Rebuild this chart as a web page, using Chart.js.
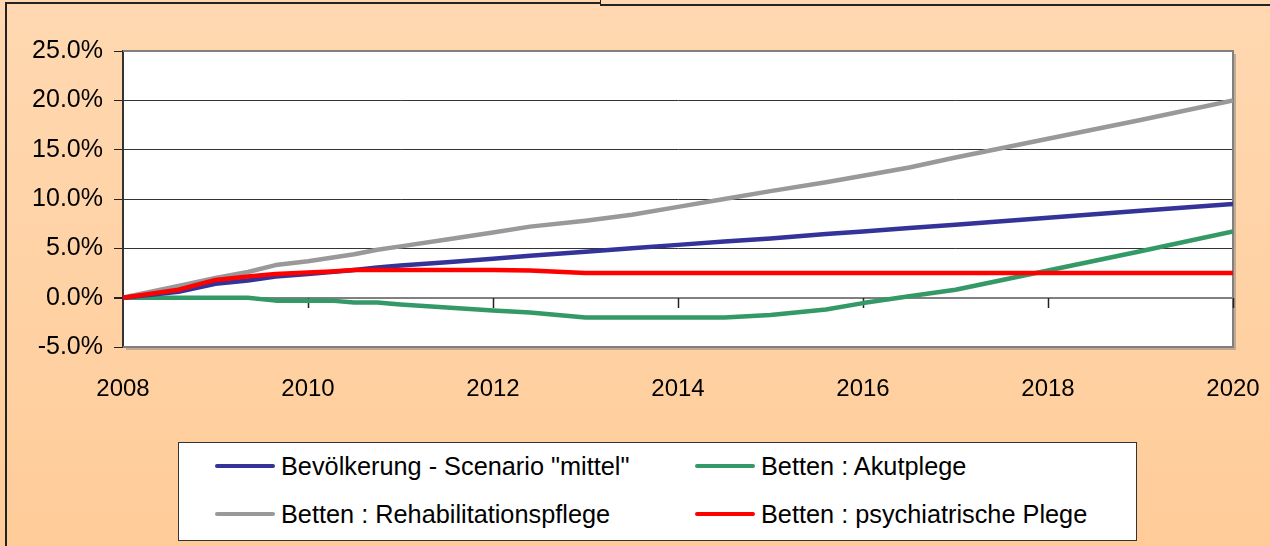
<!DOCTYPE html>
<html>
<head>
<meta charset="utf-8">
<script src="https://cdn.jsdelivr.net/npm/chart.js@4/dist/chart.umd.min.js"></script>
<style>
  html, body { margin: 0; padding: 0; }
  body {
    width: 1270px; height: 546px; overflow: hidden; position: relative;
    background: linear-gradient(#ffd8b1, #ffcc99);
    font-family: "Liberation Sans", Arial, sans-serif;
  }
  #wrap { position: absolute; left: 0; top: 0; width: 1270px; height: 546px; }
  .frame-left { position: absolute; left: 5px; top: 2px; width: 2px; height: 544px; background: #222; }
  .frame-top1 { position: absolute; left: 5px; top: 2px; width: 596px; height: 2px; background: #222; }
  .frame-top2 { position: absolute; left: 600px; top: 4px; width: 670px; height: 2px; background: #222; }
  .frame-step { position: absolute; left: 600px; top: 0px; width: 1px; height: 5px; background: #222; }
  #legend {
    position: absolute; left: 178px; top: 442px; width: 957px; height: 97px;
    background: #fff; border: 1px solid #333;
  }
  .item { position: absolute; height: 30px; display: flex; align-items: center; font-size: 25.3px; color: #000; white-space: nowrap; }
  .item .swatch { width: 60px; height: 4px; border-radius: 2px; margin-right: 6px; }
</style>
</head>
<body>
<div id="wrap"><canvas id="chart" width="1270" height="546"></canvas></div>
<div class="frame-left"></div>
<div class="frame-top1"></div>
<div class="frame-top2"></div>
<div class="frame-step"></div>
<div id="legend"></div>
<script>
// years of the data points (x values)
var years = [2008, 2008.6, 2009, 2009.35, 2009.65, 2010, 2010.25, 2010.5, 2010.75, 2011, 2011.5, 2012, 2012.4, 2013, 2013.5, 2014, 2014.5, 2015, 2015.6, 2016, 2016.5, 2017, 2018, 2019, 2020];

// change against 2008 in %
var bevoelkerung = [0, 0.6, 1.4, 1.75, 2.15, 2.4, 2.6, 2.8, 3.05, 3.25, 3.6, 3.95, 4.25, 4.65, 5.0, 5.35, 5.7, 6.0, 6.45, 6.7, 7.05, 7.4, 8.1, 8.8, 9.5];
var rehab = [0, 1.2, 2.0, 2.6, 3.3, 3.7, 4.05, 4.4, 4.85, 5.2, 5.9, 6.6, 7.2, 7.8, 8.4, 9.2, 10.0, 10.8, 11.7, 12.35, 13.2, 14.2, 16.1, 18.0, 20.0];
var akut = [0, 0, 0, 0, -0.3, -0.3, -0.3, -0.5, -0.5, -0.7, -1.0, -1.3, -1.5, -2.0, -2.0, -2.0, -2.0, -1.75, -1.2, -0.55, 0.15, 0.8, 2.75, 4.7, 6.7];
var psych = [0, 0.8, 1.8, 2.15, 2.4, 2.55, 2.65, 2.8, 2.8, 2.8, 2.8, 2.8, 2.75, 2.5, 2.5, 2.5, 2.5, 2.5, 2.5, 2.5, 2.5, 2.5, 2.5, 2.5, 2.5];

var xTicks = [2008, 2010, 2012, 2014, 2016, 2018, 2020];
var yTicks = [-5, 0, 5, 10, 15, 20, 25];

var labels = ['Bevölkerung - Scenario "mittel"', 'Betten : Rehabilitationspflege', 'Betten : Akutplege', 'Betten : psychiatrische Plege'];
var colors = ['#333399', '#999999', '#339966', '#ff0000'];

function pts(vals) {
  return vals.map(function(v, i){ return {x: years[i], y: v}; });
}

// white plot area, borders and the x tick marks sitting on the 0 line
var plotDeco = {
  id: 'plotDeco',
  beforeDraw: function(chart) {
    var a = chart.chartArea, ctx = chart.ctx;
    ctx.save();
    ctx.fillStyle = 'rgba(120,120,120,0.45)';
    ctx.fillRect(a.left + 3, a.top + 3, a.width, a.height);
    ctx.fillStyle = '#ffffff';
    ctx.fillRect(a.left, a.top, a.width, a.height);
    ctx.restore();
  },
  beforeDatasetsDraw: function(chart) {
    var a = chart.chartArea, ctx = chart.ctx;
    var xs = chart.scales.x, ys = chart.scales.y;
    var y0 = Math.round(ys.getPixelForValue(0));
    ctx.save();
    ctx.strokeStyle = '#808080';
    ctx.lineWidth = 2;
    ctx.beginPath();
    ctx.moveTo(a.left, a.top); ctx.lineTo(a.right, a.top);
    ctx.lineTo(a.right, a.bottom); ctx.lineTo(a.left, a.bottom);
    ctx.stroke();
    ctx.strokeStyle = '#222';
    ctx.lineWidth = 1.5;
    xTicks.forEach(function(t){
      if (t === xTicks[0]) return;
      var px = Math.round(xs.getPixelForValue(t)) + 0.5;
      ctx.beginPath();
      ctx.moveTo(px, y0); ctx.lineTo(px, y0 + 10);
      ctx.stroke();
    });
    ctx.restore();
  }
};

var datasets = [bevoelkerung, rehab, akut, psych].map(function(vals, i){
  return {
    label: labels[i],
    data: pts(vals),
    borderColor: colors[i],
    backgroundColor: colors[i],
    borderWidth: 4.5,
    pointRadius: 0,
    tension: 0,
    borderJoinStyle: 'round',
    order: i === 3 ? 0 : i + 1
  };
});

var chrt = document.getElementById('chart').getContext('2d');
var myChart = new Chart(chrt, {
  type: 'line',
  data: { datasets: datasets },
  plugins: [plotDeco],
  options: {
    responsive: false,
    animation: false,
    layout: { padding: { left: 0, top: 51, right: 37, bottom: 0 } },
    plugins: { legend: { display: false }, tooltip: { enabled: false } },
    scales: {
      x: {
        type: 'linear',
        min: 2008, max: 2020,
        afterBuildTicks: function(s){ s.ticks = xTicks.map(function(v){ return {value: v}; }); },
        afterFit: function(s){ s.height = 199; s.paddingLeft = 0; s.paddingRight = 0; },
        grid: { display: false },
        border: { display: false },
        ticks: {
          color: '#000',
          padding: 20,
          maxRotation: 0,
          font: { family: '"Liberation Sans", Arial, sans-serif', size: 24 },
          callback: function(v){ return String(v); }
        }
      },
      y: {
        min: -5, max: 25,
        afterBuildTicks: function(s){ s.ticks = yTicks.map(function(v){ return {value: v}; }); },
        afterFit: function(s){ s.width = 123; s.paddingTop = 0; s.paddingBottom = 0; },
        grid: {
          color: function(c){
            var v = c.tick ? c.tick.value : null;
            return (v === 0 || v === -5 || v === 25) ? '#808080' : '#333333';
          },
          lineWidth: function(c){
            var v = c.tick ? c.tick.value : null;
            return (v === 0) ? 2 : 1;
          },
          tickColor: '#222',
          tickLength: 9,
          drawTicks: true
        },
        border: { display: true, color: '#333', width: 2 },
        ticks: {
          color: '#000',
          padding: 11,
          font: { family: '"Liberation Sans", Arial, sans-serif', size: 25 },
          callback: function(v){ return v.toFixed(1) + '%'; }
        }
      }
    }
  }
});

// legend built from the chart datasets
var leg = document.getElementById('legend');
var slots = [[36, 8], [36, 56], [516, 8], [516, 56]];
myChart.data.datasets.forEach(function(ds, i){
  var it = document.createElement('div');
  it.className = 'item';
  it.style.left = slots[i][0] + 'px';
  it.style.top = slots[i][1] + 'px';
  var sw = document.createElement('span');
  sw.className = 'swatch';
  sw.style.background = ds.borderColor;
  var tx = document.createElement('span');
  tx.textContent = ds.label;
  it.appendChild(sw);
  it.appendChild(tx);
  leg.appendChild(it);
});
</script>
</body>
</html>
